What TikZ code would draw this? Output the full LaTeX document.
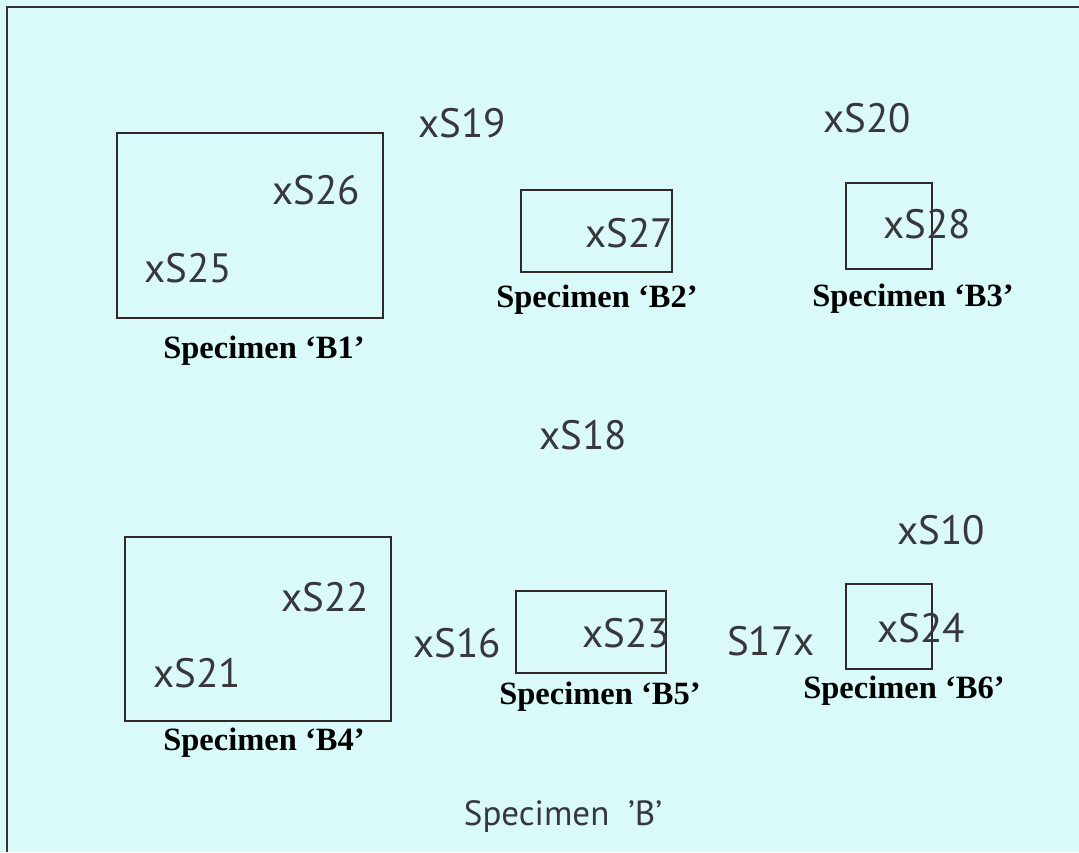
\documentclass[tikz,border=0pt]{standalone}
\usepackage{fontspec}
\setmainfont{Liberation Serif}
\newfontfamily\lblfont{PT Sans}
\definecolor{bgcyan}{RGB}{218,250,250}
\definecolor{ink}{RGB}{55,55,60}
\definecolor{boxline}{RGB}{50,40,40}
\tikzset{
  ptlabel/.style={font=\lblfont\fontsize{41}{44}\selectfont, text=ink, inner sep=0pt, anchor=center},
  captext/.style={font=\bfseries\fontsize{32.5}{35}\selectfont, text=black, inner sep=0pt, anchor=base},
  specbox/.style={draw=boxline, line width=1.3pt, inner sep=0pt}
}
\begin{document}
\begin{tikzpicture}[x=1pt,y=-1pt]
\fill[bgcyan] (0,0) rectangle (1079,852);
\useasboundingbox (0,0) rectangle (1079,852);
\draw[line width=2pt, black!80] (7,852) -- (7,7) -- (1079,7);

% boxes
\node[specbox, minimum width=266pt, minimum height=185pt] (b1) at (250,225.5) {};
\node[specbox, minimum width=151pt, minimum height=82pt] (b2) at (596.5,231) {};
\node[specbox, minimum width=86pt, minimum height=86pt] (b3) at (889,226) {};
\node[specbox, minimum width=266pt, minimum height=184pt] (b4) at (258,629) {};
\node[specbox, minimum width=150pt, minimum height=82pt] (b5) at (591,632) {};
\node[specbox, minimum width=86pt, minimum height=85pt] (b6) at (889,626.5) {};

% captions
\node[captext] (c1) at (264,358) {Specimen ‘B1’};
\node[captext] (c2) at (597,307) {Specimen ‘B2’};
\node[captext] (c3) at (913,306) {Specimen ‘B3’};
\node[captext] (c4) at (264,750) {Specimen ‘B4’};
\node[captext] (c5) at (600,704) {Specimen ‘B5’};
\node[captext] (c6) at (904,698) {Specimen ‘B6’};

% point labels
\node[ptlabel] (s19) at (462,123) {xS19};
\node[ptlabel] (s20) at (867,118) {xS20};
\node[ptlabel] (s26) at (316,190) {xS26};
\node[ptlabel] (s25) at (188,268) {xS25};
\node[ptlabel] (s27) at (629,233) {xS27};
\node[ptlabel] (s28) at (927,224) {xS28};
\node[ptlabel] (s18) at (583,435) {xS18};
\node[ptlabel] (s10) at (941,530) {xS10};
\node[ptlabel] (s22) at (325,597) {xS22};
\node[ptlabel] (s21) at (197,673) {xS21};
\node[ptlabel] (s16) at (457,643) {xS16};
\node[ptlabel] (s23) at (626,633) {xS23};
\node[ptlabel] (s17) at (771,641) {S17x};
\node[ptlabel] (s24) at (921,628) {xS24};

\node[font=\lblfont\fontsize{35}{38}\selectfont, text=ink, inner sep=0pt, anchor=base] (title) at (563,825) {Specimen\ \ ’B’};
\end{tikzpicture}
\end{document}
